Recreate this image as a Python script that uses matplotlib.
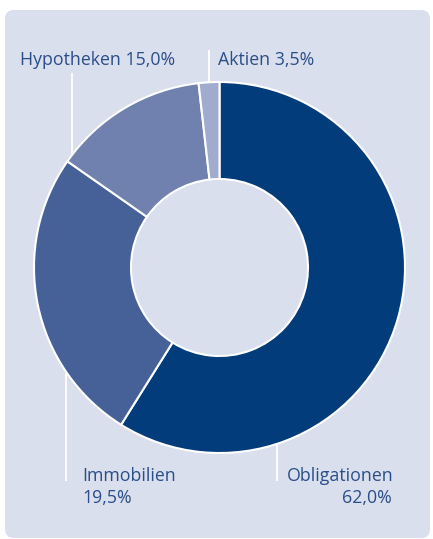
import matplotlib
matplotlib.use('Agg')
import matplotlib.pyplot as plt
from matplotlib.patches import FancyBboxPatch

# Daten
categories = ['Obligationen', 'Immobilien', 'Hypotheken', 'Aktien']
share_labels = ['62,0%', '19,5%', '15,0%', '3,5%']
# Anteile, wie sie im Ring gezeichnet sind
ring_values = [58.9, 25.8, 13.5, 1.8]
colors = ['#023c7b', '#456197', '#7081b0', '#a1abcd']

W, H = 433, 539
text_color = '#2a4e89'
bg_color = '#dadfed'

fig = plt.figure(figsize=(W / 100, H / 100), dpi=100)
ax = fig.add_axes([0, 0, 1, 1])


def fy(y):
    # Pixel von oben -> Datenkoordinate von unten
    return H - y


# Hintergrundkasten
box = FancyBboxPatch((5, fy(538)), 425, 528,
                     boxstyle='round,pad=0,rounding_size=9',
                     facecolor=bg_color, edgecolor='none', zorder=0)
ax.add_patch(box)

# Ring
wedges, _ = ax.pie(ring_values, colors=colors, startangle=90, counterclock=False,
                   center=(219.5, fy(267.5)), radius=185.5,
                   wedgeprops=dict(width=97, edgecolor='white', linewidth=1.5))
for w in wedges:
    w.set_zorder(3)

# Hinweislinien
lines = [((277, 277), (430, 481)),
         ((66, 66), (360, 481)),
         ((72, 72), (73, 175)),
         ((209, 209), (50, 100))]
for xs, ys in lines:
    ax.plot(xs, [fy(v) for v in ys], color='white', lw=1.3, zorder=1,
            solid_capstyle='butt')

font = dict(family=['Open Sans', 'DejaVu Sans'], fontsize=12.8, color=text_color, zorder=4)

ax.text(287, fy(476), categories[0], ha='left', va='center', **font)
ax.text(392, fy(498), share_labels[0], ha='right', va='center', **font)
ax.text(82, fy(476), categories[1], ha='left', va='center', **font)
ax.text(82, fy(498), share_labels[1], ha='left', va='center', **font)
ax.text(20, fy(60), f'{categories[2]} {share_labels[2]}', ha='left', va='center', **font)
ax.text(218, fy(60), f'{categories[3]} {share_labels[3]}', ha='left', va='center', **font)

ax.set_xlim(0, W)
ax.set_ylim(0, H)
ax.set_aspect('auto')
ax.axis('off')

fig.savefig('out.png', dpi=100, facecolor='white')
